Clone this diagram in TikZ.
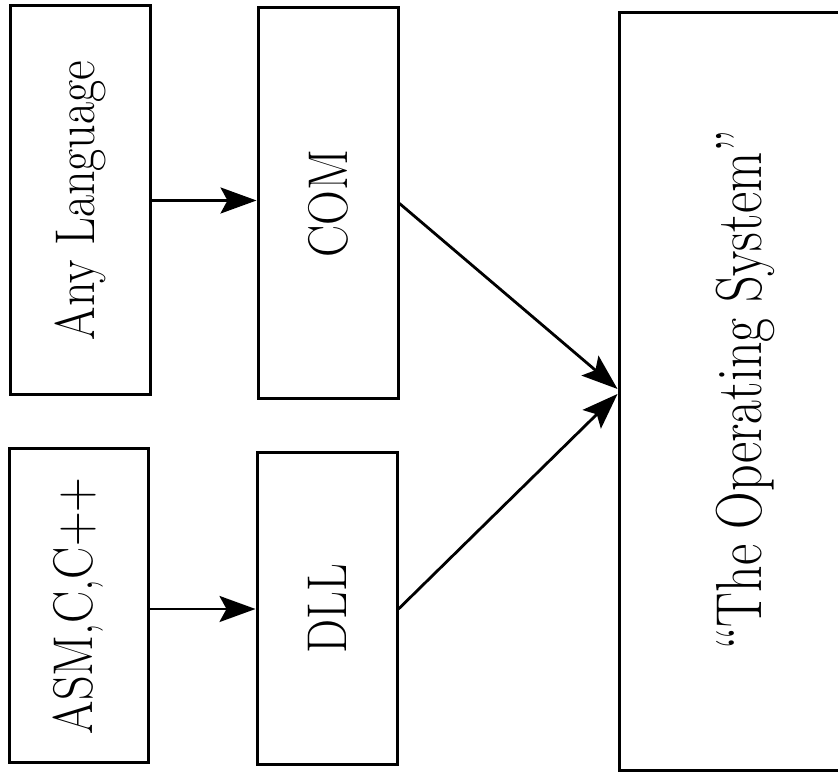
\documentclass[tikz,border=0pt]{standalone}
\usepackage{fontspec}
\usetikzlibrary{arrows.meta}
\newcommand{\boxlabel}[1]{\rotatebox{90}{\fontsize{56}{60}\selectfont\scalebox{0.86}[1]{#1}}}
\newcommand{\oslabel}[1]{\rotatebox{90}{\fontsize{65}{70}\selectfont\scalebox{0.8}[1]{#1}}}
\tikzset{
  blk/.style={draw, line width=3pt, inner sep=0pt, align=center},
  conn/.style={line width=2.8pt, -{Stealth[length=36pt,width=26pt,inset=7pt]}}
}
\begin{document}
\begin{tikzpicture}[x=1pt,y=1pt]
\useasboundingbox (0,0) rectangle (838,775);
\clip (0,0) rectangle (838,775);
\node[blk, minimum width=140pt, minimum height=389pt] (al)  at (80,574.5) {\boxlabel{Any Language}};
\node[blk, minimum width=139pt, minimum height=314pt] (asm) at (78.5,169) {\boxlabel{ASM,C,C++}};
\node[blk, minimum width=140pt, minimum height=391pt] (com) at (328,571.5) {\boxlabel{COM}};
\node[blk, minimum width=140pt, minimum height=312pt] (dll) at (327,166) {\boxlabel{DLL}};
\node[blk, minimum width=500pt, minimum height=758pt] (os)  at (869,383) {};
\node (ostxt) at (745,385) {\oslabel{``The Operating System''}};
\draw[conn] (al.east) -- (al.east -| com.west);
\draw[conn] (dll.west -| asm.east) -- (dll.west);
\draw[conn] (com.east) -- ([yshift=3pt]os.west);
\draw[conn] (dll.east) -- ([yshift=-2pt]os.west);
\end{tikzpicture}
\end{document}
